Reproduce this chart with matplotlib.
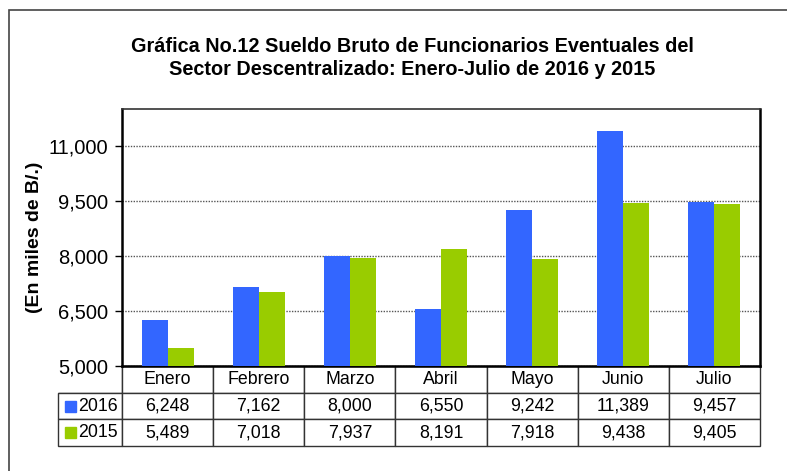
import matplotlib
matplotlib.use("Agg")
import matplotlib.pyplot as plt
from matplotlib.patches import Rectangle
import numpy as np

plt.rcParams['font.family'] = ['Liberation Sans', 'DejaVu Sans']

months = ['Enero', 'Febrero', 'Marzo', 'Abril', 'Mayo', 'Junio', 'Julio']
series_names = ['2016', '2015']
v2016 = [6248, 7162, 8000, 6550, 9242, 11389, 9457]
v2015 = [5489, 7018, 7937, 8191, 7918, 9438, 9405]
yticks = [5000, 6500, 8000, 9500, 11000]
colors = ['#3366FF', '#99CC00']

W, H = 787, 471
fig = plt.figure(figsize=(W / 100, H / 100), dpi=100)

# plot area in pixels (left, top, right, bottom)
pl, pt, pr, pb = 122, 109, 760, 366
ax = fig.add_axes([pl / W, 1 - pb / H, (pr - pl) / W, (pb - pt) / H])

x = np.arange(len(months))
bw = 0.285
ax.bar(x - bw / 2, v2016, bw, color=colors[0], zorder=3)
ax.bar(x + bw / 2, v2015, bw, color=colors[1], zorder=3)

ax.set_xlim(-0.5, len(months) - 0.5)
ax.set_ylim(5000, 12000)
ax.set_yticks(yticks)
ax.set_yticklabels(['{:,}'.format(v) for v in yticks], fontsize=14.5)
ax.set_xticks([])
ax.tick_params(axis='y', direction='out', length=5, width=1, pad=5)
ax.yaxis.grid(True, linestyle=(0, (1, 1)), color='#555555', linewidth=1, zorder=0)

for side in ['left', 'bottom', 'right']:
    ax.spines[side].set_linewidth(1.8)
    ax.spines[side].set_color('black')
ax.spines['top'].set_linewidth(1.2)
ax.spines['top'].set_color('#333333')

# data table under the axes
lab_w = 64 / (pr - pl)
col_w = 1 / len(months)
tab_h = 80 / (pb - pt)
cell_text = [[series_names[0]] + ['{:,}'.format(v) for v in v2016],
             [series_names[1]] + ['{:,}'.format(v) for v in v2015]]
tab = ax.table(cellText=cell_text, colLabels=[''] + months,
               colWidths=[lab_w] + [col_w] * len(months),
               cellLoc='center', bbox=[-lab_w, -tab_h, 1 + lab_w, tab_h])
tab.auto_set_font_size(False)
tab.set_fontsize(12.8)
for (r, c), cell in tab.get_celld().items():
    cell.set_edgecolor('#333333')
    cell.set_linewidth(1.0)
    if r == 0 and c == 0:
        cell.visible_edges = 'BR'
    if c == 0 and r > 0:
        cell.get_text().set_ha('right')
        cell._loc = 'right'
        cell.PAD = 0.06

# legend keys in the row label cells
row_h = tab_h / 3
for i, col in enumerate(colors):
    yc = -row_h * (1.5 + i)
    sq = 11 / (pb - pt)
    ax.add_patch(Rectangle((-57 / (pr - pl), yc - sq / 2), 11 / (pr - pl), sq,
                           transform=ax.transAxes, color=col, clip_on=False))

fig.text(412 / W, 1 - 58 / H,
         'Gráfica No.12 Sueldo Bruto de Funcionarios Eventuales del\n'
         'Sector Descentralizado: Enero-Julio de 2016 y 2015',
         ha='center', va='center', fontsize=14.3, fontweight='bold', linespacing=1.25)
fig.text(35 / W, 1 - (pt + pb) / 2 / H, '(En miles de B/.)', rotation=90,
         ha='center', va='center', fontsize=14, fontweight='bold')

# outer chart frame
fig.add_artist(Rectangle((9 / W, -0.1), 1.0, 1 - 10 / H + 0.1, transform=fig.transFigure,
                         fill=False, edgecolor='#444444', linewidth=1.2))

fig.savefig('out.png', dpi=100)
